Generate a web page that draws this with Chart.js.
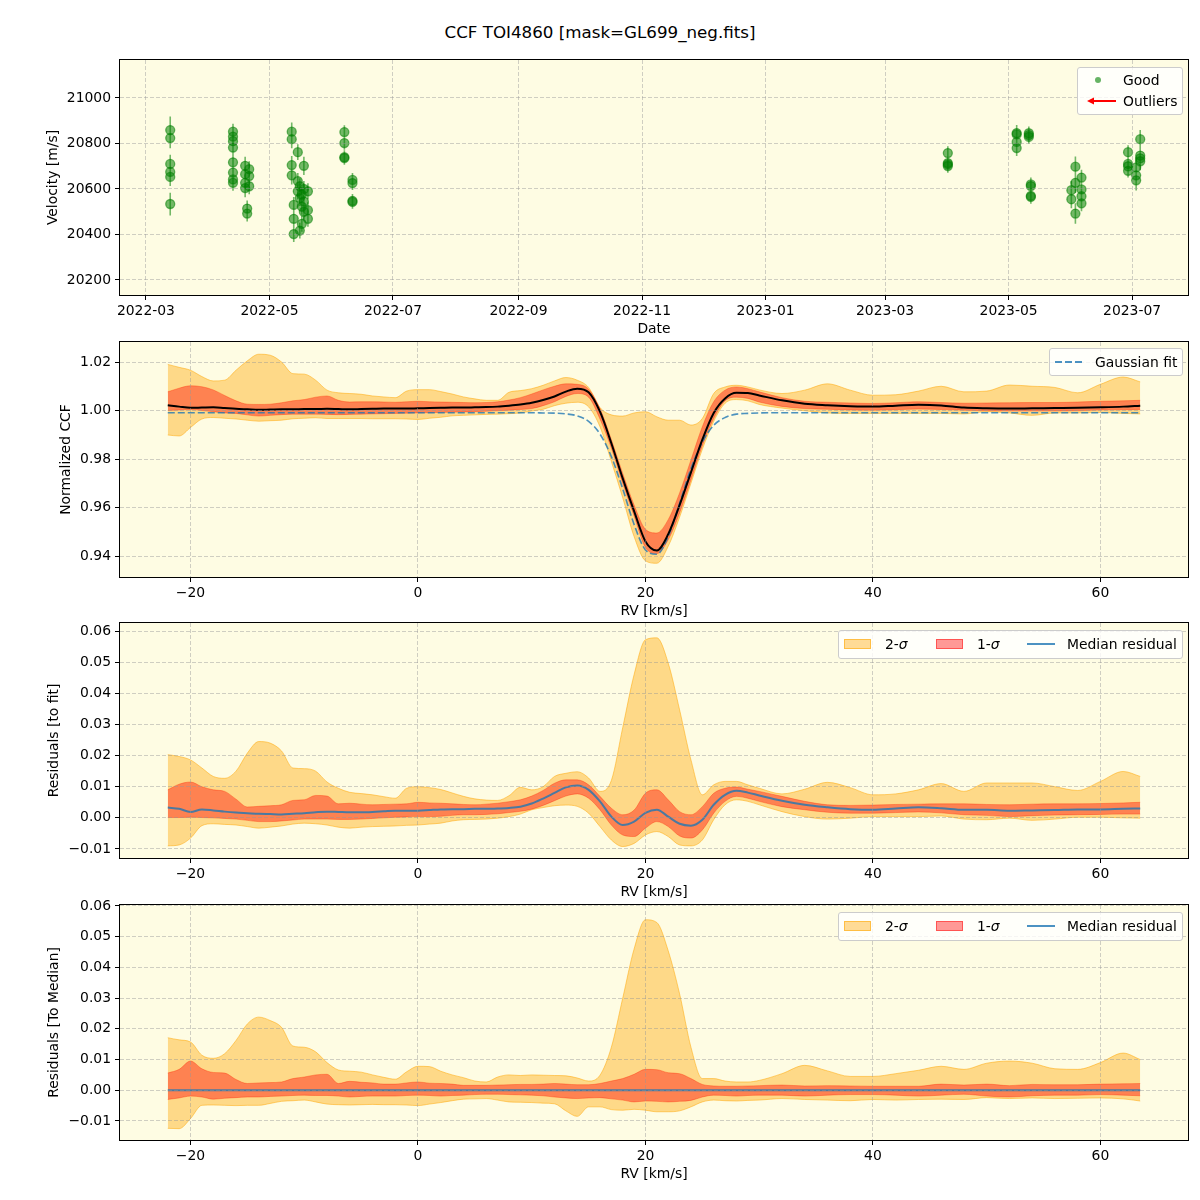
<!DOCTYPE html>
<html>
<head>
<meta charset="utf-8">
<title>CCF TOI4860</title>
<script src="https://cdn.jsdelivr.net/npm/chart.js@4.4.1/dist/chart.umd.min.js"></script>
<style>
  body { margin: 0; background: #fff; }
  #page { position: relative; width: 1200px; height: 1200px; font-family: "DejaVu Sans", sans-serif; color: #000; }
  #page canvas { position: absolute; left: 0; }
  #title { position: absolute; top: 22px; left: 0; width: 1200px; text-align: center; font-size: 16.7px; }
  .legend { position: absolute; background: rgba(255,255,255,0.8); border: 1px solid #cccccc; border-radius: 3px; font-size: 13.9px; }
  .legend span, .legend svg, .legend i.patch { position: absolute; }
  .legend span { line-height: 16px; white-space: nowrap; }
  .patch { display: block; width: 27px; height: 10px; top: 8px; box-sizing: border-box; }
</style>
</head>
<body>
<div id="page">
  <div id="title">CCF TOI4860 [mask=GL699_neg.fits]</div>
  <canvas id="velChart" width="1200" height="306" style="top:44px"></canvas>
  <canvas id="ccfChart" width="1200" height="306" style="top:326px"></canvas>
  <canvas id="fitChart" width="1200" height="306" style="top:607px"></canvas>
  <canvas id="medChart" width="1200" height="306" style="top:889px"></canvas>

  <div class="legend" style="left:1077px;top:67px;width:104px;height:46px">
    <svg style="left:15px;top:7px" width="10" height="10"><circle cx="5" cy="5" r="3" fill="rgba(0,128,0,0.6)"/></svg>
    <span style="left:45px;top:4px">Good</span>
    <svg style="left:9px;top:27px" width="30" height="12"><line x1="29" y1="6" x2="5" y2="6" stroke="red" stroke-width="2"/><polygon points="0,6 7,2.5 7,9.5" fill="red"/></svg>
    <span style="left:45px;top:25px">Outliers</span>
  </div>

  <div class="legend" style="left:1049px;top:348px;width:132px;height:26px">
    <svg style="left:5px;top:8px" width="30" height="10"><line x1="0" y1="5" x2="28" y2="5" stroke="rgba(31,119,180,0.8)" stroke-width="2" stroke-dasharray="7,3"/></svg>
    <span style="left:45px;top:5px">Gaussian fit</span>
  </div>

  <div class="legend" style="left:838px;top:630px;width:343px;height:27px">
    <i class="patch" style="left:5px;background:rgba(255,165,0,0.4);border:1px solid rgba(255,165,0,0.55)"></i>
    <span style="left:46px;top:5px">2-<i>σ</i></span>
    <i class="patch" style="left:97px;background:rgba(255,0,0,0.4);border:1px solid rgba(255,0,0,0.45)"></i>
    <span style="left:138px;top:5px">1-<i>σ</i></span>
    <svg style="left:188px;top:8px" width="30" height="10"><line x1="0" y1="5" x2="28" y2="5" stroke="rgba(31,119,180,0.8)" stroke-width="2"/></svg>
    <span style="left:228px;top:5px">Median residual</span>
  </div>

  <div class="legend" style="left:838px;top:912px;width:343px;height:27px">
    <i class="patch" style="left:5px;background:rgba(255,165,0,0.4);border:1px solid rgba(255,165,0,0.55)"></i>
    <span style="left:46px;top:5px">2-<i>σ</i></span>
    <i class="patch" style="left:97px;background:rgba(255,0,0,0.4);border:1px solid rgba(255,0,0,0.45)"></i>
    <span style="left:138px;top:5px">1-<i>σ</i></span>
    <svg style="left:188px;top:8px" width="30" height="10"><line x1="0" y1="5" x2="28" y2="5" stroke="rgba(31,119,180,0.8)" stroke-width="2"/></svg>
    <span style="left:228px;top:5px">Median residual</span>
  </div>
</div>

<script>
// CCF diagnostics for TOI4860

// --- Velocity time series (panel 1) ---
const obsDates = [
  '2022-03-13','2022-03-13','2022-03-13','2022-03-13','2022-03-13','2022-03-13',
  '2022-04-13','2022-04-13','2022-04-13','2022-04-13','2022-04-13','2022-04-13','2022-04-13','2022-04-13',
  '2022-04-19','2022-04-19','2022-04-19','2022-04-19',
  '2022-04-20','2022-04-20',
  '2022-04-21','2022-04-21','2022-04-21',
  '2022-05-12','2022-05-12','2022-05-12','2022-05-12',
  '2022-05-13','2022-05-13','2022-05-13',
  '2022-05-15','2022-05-15','2022-05-15',
  '2022-05-16','2022-05-16','2022-05-16',
  '2022-05-17','2022-05-17','2022-05-17',
  '2022-05-18','2022-05-18','2022-05-18','2022-05-18',
  '2022-05-20','2022-05-20','2022-05-20',
  '2022-06-07','2022-06-07','2022-06-07','2022-06-07',
  '2022-06-11','2022-06-11','2022-06-11','2022-06-11',
  '2023-04-01','2023-04-01','2023-04-01','2023-04-01',
  '2023-05-05','2023-05-05','2023-05-05','2023-05-05',
  '2023-05-11','2023-05-11','2023-05-11',
  '2023-05-12','2023-05-12','2023-05-12','2023-05-12',
  '2023-06-01','2023-06-01',
  '2023-06-03','2023-06-03','2023-06-03',
  '2023-06-06','2023-06-06','2023-06-06','2023-06-06',
  '2023-06-29','2023-06-29','2023-06-29','2023-06-29',
  '2023-07-03','2023-07-03','2023-07-03',
  '2023-07-05','2023-07-05','2023-07-05','2023-07-05'
];
const obsVel = [
  20859, 20824, 20710, 20675, 20653, 20534,
  20852, 20830, 20810, 20782, 20717, 20672, 20642, 20627,
  20702, 20665, 20627, 20604,
  20514, 20492,
  20687, 20657, 20612,
  20852, 20819, 20705, 20660,
  20530, 20469, 20402,
  20762, 20635, 20590,
  20612, 20560, 20417,
  20575, 20522, 20447,
  20702, 20600, 20545, 20500,
  20590, 20507, 20469,
  20850, 20802, 20740, 20736,
  20640, 20626, 20548, 20543,
  20758, 20714, 20708, 20701,
  20846, 20840, 20807, 20780,
  20845, 20837, 20829,
  20620, 20613, 20570, 20565,
  20595, 20555,
  20698, 20627, 20492,
  20650, 20598, 20568, 20537,
  20762, 20710, 20700, 20680,
  20695, 20660, 20638,
  20819, 20747, 20735, 20722
];
const obsErr = [
  60, 45, 40, 40, 40, 50,
  35, 35, 35, 35, 35, 40, 40, 35,
  40, 40, 40, 40,
  35, 35,
  35, 35, 35,
  40, 40, 40, 40,
  35, 35, 35,
  35, 35, 35,
  35, 35, 35,
  35, 35, 35,
  40, 35, 35, 35,
  35, 35, 35,
  30, 30, 30, 30,
  30, 30, 30, 30,
  30, 30, 30, 30,
  35, 35, 35, 35,
  30, 30, 30,
  30, 30, 30, 30,
  40, 40,
  45, 45, 45,
  35, 35, 35, 35,
  30, 30, 30, 30,
  45, 45, 45,
  40, 40, 40, 40
];
const dateTickLabels = ['2022-03', '2022-05', '2022-07', '2022-09', '2022-11', '2023-01', '2023-03', '2023-05', '2023-07'];
const velTicks = [20200, 20400, 20600, 20800, 21000];

// --- CCF profiles, RV grid in km/s (panels 2-4) ---
const rv = [
  -22, -21, -20, -19, -18, -17, -16, -15, -14, -13,
  -12, -11, -10, -9, -8, -7, -6, -5, -4, -3,
  -2, -1, 0, 1, 2, 3, 4, 5, 6, 7,
  8, 9, 10, 11, 12, 13, 14, 15, 16, 17,
  18, 19, 20, 21, 22, 23, 24, 25, 26, 27,
  28, 29, 30, 32, 34, 36, 38, 40, 42, 44,
  46, 48, 50, 52, 54, 56, 58, 60, 62, 63.5
];
const rvTicks = [-20, 0, 20, 40, 60];

// normalized CCF
const ccfMedian = [
  1.0022, 1.0016, 1.0011, 1.0012, 1.0013, 1.0010, 1.0007, 1.0005, 1.0003, 1.0004,
  1.0005, 1.0005, 1.0006, 1.0006, 1.0007, 1.0006, 1.0005, 1.0006, 1.0007, 1.0008,
  1.0008, 1.0008, 1.0009, 1.0010, 1.0011, 1.0012, 1.0012, 1.0013, 1.0014, 1.0016,
  1.0020, 1.0025, 1.0032, 1.0043, 1.0058, 1.0078, 1.0090, 1.0075, 0.9995, 0.9865,
  0.9720, 0.9585, 0.9460, 0.9423, 0.9490, 0.9610, 0.9745, 0.9880, 0.9990, 1.0050,
  1.0073, 1.0072, 1.0062, 1.0042, 1.0028, 1.0022, 1.0018, 1.0016, 1.0020, 1.0024,
  1.0021, 1.0012, 1.0009, 1.0008, 1.0009, 1.0010, 1.0011, 1.0013, 1.0016, 1.0020
];
const ccfGauss = [
  0.9991, 0.9991, 0.9991, 0.9991, 0.9991, 0.9991, 0.9991, 0.9991, 0.9991, 0.9991,
  0.9991, 0.9991, 0.9991, 0.9991, 0.9991, 0.9991, 0.9991, 0.9991, 0.9991, 0.9991,
  0.9991, 0.9991, 0.9991, 0.9991, 0.9991, 0.9991, 0.9991, 0.9991, 0.9991, 0.9991,
  0.9991, 0.9991, 0.9991, 0.9990, 0.9989, 0.9986, 0.9978, 0.9955, 0.9903, 0.9810,
  0.9677, 0.9530, 0.9425, 0.9407, 0.9480, 0.9617, 0.9760, 0.9870, 0.9939, 0.9971,
  0.9985, 0.9988, 0.9990, 0.9991, 0.9991, 0.9991, 0.9991, 0.9991, 0.9991, 0.9991,
  0.9991, 0.9991, 0.9991, 0.9991, 0.9991, 0.9991, 0.9991, 0.9991, 0.9991, 0.9991
];
const ccfHi1 = [
  1.0077, 1.0092, 1.0102, 1.0098, 1.0085, 1.0062, 1.0040, 1.0026, 1.0025, 1.0026,
  1.0032, 1.0040, 1.0045, 1.0055, 1.0060, 1.0042, 1.0035, 1.0036, 1.0036, 1.0035,
  1.0034, 1.0036, 1.0038, 1.0036, 1.0035, 1.0034, 1.0033, 1.0032, 1.0033, 1.0036,
  1.0043, 1.0053, 1.0068, 1.0085, 1.0100, 1.0110, 1.0108, 1.0088, 1.0008, 0.9880,
  0.9740, 0.9610, 0.9510, 0.9495, 0.9550, 0.9660, 0.9796, 0.9933, 1.0036, 1.0084,
  1.0097, 1.0090, 1.0077, 1.0053, 1.0038, 1.0034, 1.0031, 1.0029, 1.0032, 1.0036,
  1.0033, 1.0030, 1.0031, 1.0032, 1.0033, 1.0033, 1.0035, 1.0038, 1.0040, 1.0042
];
const ccfLo1 = [
  1.0000, 1.0002, 1.0004, 1.0000, 0.9995, 0.9990, 0.9988, 0.9982, 0.9977, 0.9980,
  0.9983, 0.9985, 0.9985, 0.9985, 0.9984, 0.9983, 0.9984, 0.9985, 0.9986, 0.9987,
  0.9988, 0.9989, 0.9990, 0.9991, 0.9992, 0.9993, 0.9994, 0.9995, 0.9997, 0.9999,
  1.0001, 1.0004, 1.0008, 1.0020, 1.0036, 1.0058, 1.0070, 1.0055, 0.9965, 0.9845,
  0.9700, 0.9565, 0.9435, 0.9410, 0.9467, 0.9577, 0.9714, 0.9855, 0.9967, 1.0040,
  1.0055, 1.0050, 1.0035, 1.0017, 1.0008, 1.0005, 1.0002, 1.0001, 1.0003, 1.0006,
  1.0004, 1.0001, 0.9999, 0.9998, 0.9998, 0.9998, 0.9999, 1.0002, 1.0003, 1.0004
];
const ccfHi2 = [
  1.0190, 1.0178, 1.0166, 1.0140, 1.0122, 1.0125, 1.0166, 1.0205, 1.0232, 1.0228,
  1.0200, 1.0152, 1.0150, 1.0125, 1.0084, 1.0073, 1.0070, 1.0067, 1.0060, 1.0056,
  1.0053, 1.0080, 1.0086, 1.0086, 1.0078, 1.0068, 1.0056, 1.0048, 1.0042, 1.0042,
  1.0075, 1.0082, 1.0090, 1.0104, 1.0122, 1.0136, 1.0125, 1.0095, 1.0012, 0.9982,
  0.9977, 0.9990, 0.9995, 0.9974, 0.9960, 0.9960, 0.9940, 0.9967, 1.0070, 1.0097,
  1.0104, 1.0097, 1.0085, 1.0070, 1.0084, 1.0110, 1.0084, 1.0063, 1.0065, 1.0080,
  1.0100, 1.0077, 1.0080, 1.0105, 1.0100, 1.0095, 1.0073, 1.0108, 1.0138, 1.0118
];
const ccfLo2 = [
  0.9899, 0.9895, 0.9930, 0.9965, 0.9971, 0.9968, 0.9965, 0.9960, 0.9956, 0.9958,
  0.9960, 0.9966, 0.9968, 0.9970, 0.9967, 0.9967, 0.9967, 0.9967, 0.9966, 0.9966,
  0.9966, 0.9965, 0.9963, 0.9968, 0.9972, 0.9978, 0.9980, 0.9982, 0.9984, 0.9985,
  0.9987, 0.9990, 0.9998, 1.0005, 1.0020, 1.0030, 1.0034, 1.0015, 0.9933, 0.9790,
  0.9640, 0.9480, 0.9380, 0.9370, 0.9440, 0.9560, 0.9700, 0.9840, 0.9955, 1.0030,
  1.0045, 1.0040, 1.0025, 1.0010, 0.9999, 0.9990, 0.9988, 0.9988, 0.9988, 0.9988,
  0.9988, 0.9986, 0.9995, 0.9990, 0.9980, 0.9990, 0.9990, 0.9992, 0.9988, 0.9986
];
const ccfTicks = [0.94, 0.96, 0.98, 1.00, 1.02];

// residuals to the Gaussian fit
const fitMedian = [
  0.0033, 0.0029, 0.0019, 0.0027, 0.0024, 0.0020, 0.0017, 0.0015, 0.0013, 0.0012,
  0.0011, 0.0013, 0.0015, 0.0018, 0.0020, 0.0019, 0.0018, 0.0018, 0.0019, 0.0021,
  0.0023, 0.0023, 0.0023, 0.0025, 0.0027, 0.0028, 0.0028, 0.0029, 0.0029, 0.0030,
  0.0032, 0.0036, 0.0046, 0.0062, 0.0080, 0.0098, 0.0104, 0.0090, 0.0053, 0.0004,
  -0.0023, -0.0012, 0.0016, 0.0026, 0.0004, -0.0019, -0.0025, -0.0006, 0.0042, 0.0074,
  0.0087, 0.0081, 0.0072, 0.0055, 0.0042, 0.0034, 0.0028, 0.0026, 0.0030, 0.0034,
  0.0031, 0.0026, 0.0026, 0.0023, 0.0024, 0.0025, 0.0027, 0.0027, 0.0029, 0.0030
];
const fitHi1 = [
  0.0090, 0.0108, 0.0115, 0.0100, 0.0090, 0.0085, 0.0060, 0.0035, 0.0037, 0.0039,
  0.0042, 0.0056, 0.0058, 0.0072, 0.0070, 0.0045, 0.0047, 0.0044, 0.0042, 0.0043,
  0.0044, 0.0045, 0.0050, 0.0048, 0.0047, 0.0045, 0.0043, 0.0042, 0.0044, 0.0047,
  0.0052, 0.0058, 0.0070, 0.0088, 0.0111, 0.0122, 0.0122, 0.0106, 0.0069, 0.0031,
  0.0010, 0.0025, 0.0079, 0.0090, 0.0058, 0.0020, 0.0010, 0.0036, 0.0079, 0.0095,
  0.0099, 0.0092, 0.0085, 0.0069, 0.0053, 0.0042, 0.0040, 0.0041, 0.0043, 0.0044,
  0.0045, 0.0045, 0.0043, 0.0042, 0.0044, 0.0045, 0.0045, 0.0046, 0.0048, 0.0050
];
const fitLo1 = [
  0.0001, 0.0001, 0.0002, 0.0001, 0.0000, -0.0002, -0.0004, -0.0008, -0.0012, -0.0012,
  -0.0010, -0.0007, -0.0004, -0.0004, -0.0004, -0.0005, -0.0005, -0.0004, -0.0002, 0.0000,
  0.0002, 0.0003, 0.0004, 0.0004, 0.0005, 0.0008, 0.0010, 0.0010, 0.0011, 0.0013,
  0.0017, 0.0021, 0.0028, 0.0040, 0.0055, 0.0070, 0.0077, 0.0063, 0.0026, -0.0023,
  -0.0055, -0.0060, -0.0033, -0.0012, -0.0028, -0.0058, -0.0065, -0.0039, 0.0015, 0.0053,
  0.0069, 0.0063, 0.0053, 0.0036, 0.0026, 0.0018, 0.0015, 0.0015, 0.0017, 0.0019,
  0.0016, 0.0010, 0.0008, 0.0004, 0.0007, 0.0009, 0.0010, 0.0011, 0.0012, 0.0012
];
const fitHi2 = [
  0.0203, 0.0197, 0.0186, 0.0160, 0.0133, 0.0127, 0.0150, 0.0208, 0.0245, 0.0240,
  0.0215, 0.0160, 0.0158, 0.0150, 0.0115, 0.0095, 0.0082, 0.0078, 0.0074, 0.0068,
  0.0063, 0.0095, 0.0100, 0.0097, 0.0091, 0.0080, 0.0069, 0.0061, 0.0057, 0.0056,
  0.0071, 0.0098, 0.0090, 0.0100, 0.0133, 0.0143, 0.0148, 0.0128, 0.0085, 0.0120,
  0.0290, 0.0460, 0.0572, 0.0578, 0.0497, 0.0347, 0.0186, 0.0074, 0.0106, 0.0117,
  0.0117, 0.0106, 0.0095, 0.0077, 0.0092, 0.0114, 0.0097, 0.0074, 0.0077, 0.0090,
  0.0110, 0.0085, 0.0112, 0.0112, 0.0112, 0.0100, 0.0088, 0.0117, 0.0149, 0.0133
];
const fitLo2 = [
  -0.0090, -0.0087, -0.0065, -0.0025, -0.0019, -0.0021, -0.0023, -0.0028, -0.0033, -0.0030,
  -0.0026, -0.0020, -0.0017, -0.0019, -0.0023, -0.0030, -0.0033, -0.0030, -0.0028, -0.0027,
  -0.0026, -0.0024, -0.0023, -0.0020, -0.0017, -0.0010, -0.0006, -0.0005, -0.0004, -0.0001,
  0.0004, 0.0012, 0.0026, 0.0033, 0.0039, 0.0041, 0.0037, 0.0015, -0.0028, -0.0071,
  -0.0092, -0.0082, -0.0055, -0.0044, -0.0060, -0.0087, -0.0090, -0.0071, -0.0006, 0.0042,
  0.0058, 0.0053, 0.0042, 0.0020, 0.0004, -0.0004, -0.0001, 0.0004, 0.0004, 0.0004,
  0.0006, -0.0004, -0.0006, -0.0001, -0.0008, -0.0004, 0.0002, 0.0002, 0.0000, -0.0001
];

// residuals to the median profile
const medMedian = [
  0, 0, 0, 0, 0, 0, 0, 0, 0, 0,
  0, 0, 0, 0, 0, 0, 0, 0, 0, 0,
  0, 0, 0, 0, 0, 0, 0, 0, 0, 0,
  0, 0, 0, 0, 0, 0, 0, 0, 0, 0,
  0, 0, 0, 0, 0, 0, 0, 0, 0, 0,
  0, 0, 0, 0, 0, 0, 0, 0, 0, 0,
  0, 0, 0, 0, 0, 0, 0, 0, 0, 0
];
const medHi1 = [
  0.0056, 0.0068, 0.0095, 0.0070, 0.0058, 0.0056, 0.0035, 0.0022, 0.0024, 0.0025,
  0.0027, 0.0038, 0.0043, 0.0050, 0.0052, 0.0022, 0.0029, 0.0026, 0.0024, 0.0020,
  0.0020, 0.0024, 0.0027, 0.0023, 0.0022, 0.0020, 0.0016, 0.0016, 0.0016, 0.0017,
  0.0018, 0.0019, 0.0019, 0.0020, 0.0022, 0.0020, 0.0018, 0.0018, 0.0022, 0.0030,
  0.0038, 0.0052, 0.0068, 0.0067, 0.0057, 0.0054, 0.0038, 0.0019, 0.0014, 0.0013,
  0.0013, 0.0014, 0.0015, 0.0017, 0.0014, 0.0015, 0.0014, 0.0013, 0.0013, 0.0013,
  0.0020, 0.0017, 0.0020, 0.0015, 0.0019, 0.0018, 0.0018, 0.0020, 0.0021, 0.0022
];
const medLo1 = [
  -0.0030, -0.0025, -0.0019, -0.0022, -0.0029, -0.0026, -0.0024, -0.0022, -0.0022, -0.0020,
  -0.0019, -0.0017, -0.0016, -0.0017, -0.0017, -0.0019, -0.0022, -0.0020, -0.0019, -0.0019,
  -0.0019, -0.0017, -0.0016, -0.0017, -0.0019, -0.0017, -0.0016, -0.0014, -0.0013, -0.0013,
  -0.0014, -0.0015, -0.0016, -0.0018, -0.0022, -0.0025, -0.0027, -0.0025, -0.0024, -0.0028,
  -0.0032, -0.0038, -0.0035, -0.0036, -0.0038, -0.0036, -0.0033, -0.0022, -0.0016, -0.0017,
  -0.0019, -0.0017, -0.0016, -0.0016, -0.0019, -0.0016, -0.0014, -0.0014, -0.0016, -0.0019,
  -0.0016, -0.0013, -0.0019, -0.0022, -0.0018, -0.0016, -0.0016, -0.0014, -0.0016, -0.0018
];
const medHi2 = [
  0.0171, 0.0164, 0.0157, 0.0114, 0.0104, 0.0119, 0.0162, 0.0216, 0.0238, 0.0227,
  0.0205, 0.0144, 0.0140, 0.0125, 0.0090, 0.0066, 0.0062, 0.0059, 0.0050, 0.0042,
  0.0036, 0.0060, 0.0078, 0.0077, 0.0062, 0.0050, 0.0041, 0.0030, 0.0027, 0.0043,
  0.0050, 0.0048, 0.0050, 0.0049, 0.0048, 0.0047, 0.0040, 0.0030, 0.0049, 0.0140,
  0.0300, 0.0460, 0.0555, 0.0546, 0.0454, 0.0314, 0.0140, 0.0038, 0.0038, 0.0030,
  0.0027, 0.0027, 0.0032, 0.0054, 0.0081, 0.0063, 0.0045, 0.0045, 0.0054, 0.0065,
  0.0078, 0.0068, 0.0088, 0.0095, 0.0088, 0.0070, 0.0068, 0.0090, 0.0121, 0.0100
];
const medLo2 = [
  -0.0124, -0.0125, -0.0092, -0.0049, -0.0048, -0.0049, -0.0050, -0.0049, -0.0049, -0.0043,
  -0.0036, -0.0034, -0.0032, -0.0038, -0.0045, -0.0047, -0.0048, -0.0047, -0.0046, -0.0047,
  -0.0047, -0.0048, -0.0050, -0.0045, -0.0040, -0.0034, -0.0029, -0.0028, -0.0027, -0.0032,
  -0.0038, -0.0039, -0.0040, -0.0042, -0.0044, -0.0067, -0.0085, -0.0054, -0.0054, -0.0063,
  -0.0065, -0.0062, -0.0065, -0.0070, -0.0070, -0.0067, -0.0054, -0.0038, -0.0032, -0.0034,
  -0.0035, -0.0033, -0.0032, -0.0027, -0.0030, -0.0032, -0.0034, -0.0030, -0.0032, -0.0030,
  -0.0029, -0.0030, -0.0024, -0.0027, -0.0025, -0.0027, -0.0026, -0.0025, -0.0028, -0.0035
];
const residTicks = [-0.01, 0.00, 0.01, 0.02, 0.03, 0.04, 0.05, 0.06];

// --- Styling ---
Chart.defaults.font.family = '"DejaVu Sans", sans-serif';
Chart.defaults.font.size = 13.9;
Chart.defaults.color = '#000';

const PLOT_BG = '#fefce3';
const GRID = 'rgba(150,150,150,0.45)';
const FILL_2S = 'rgba(255,165,0,0.4)';
const EDGE_2S = 'rgba(255,165,0,0.5)';
const FILL_1S = 'rgba(255,0,0,0.4)';
const EDGE_1S = 'rgba(255,40,0,0.35)';
const C0 = 'rgba(31,119,180,0.8)';

// plot background + black frame around the axes box
const axesFrame = {
  id: 'axesFrame',
  beforeDraw(chart) {
    const a = chart.chartArea, ctx = chart.ctx;
    ctx.save();
    ctx.fillStyle = PLOT_BG;
    ctx.fillRect(a.left, a.top, a.right - a.left, a.bottom - a.top);
    ctx.restore();
  },
  afterDraw(chart) {
    const a = chart.chartArea, ctx = chart.ctx;
    ctx.save();
    ctx.strokeStyle = '#000';
    ctx.lineWidth = 1;
    ctx.strokeRect(a.left - 0.5, a.top - 0.5, a.right - a.left + 1, a.bottom - a.top + 1);
    ctx.restore();
  }
};

const signed = v => (v < 0 ? '\u2212' : '') + Math.abs(v);
const signed2 = v => (v < 0 ? '\u2212' : '') + Math.abs(v).toFixed(2);

function toDay(s) {
  return (Date.parse(s + 'T00:00:00Z') - Date.parse('2022-03-01T00:00:00Z')) / 86400000;
}

function makeScales(o) {
  const gridOpts = { color: GRID, lineWidth: 1, z: 1, tickColor: '#000', tickLength: 5, tickWidth: 1, tickBorderDash: [] };
  return {
    x: {
      type: 'linear', min: o.xMin, max: o.xMax,
      afterFit: s => { s.height = 55; },
      afterBuildTicks: s => { s.ticks = o.xTicks.map(v => ({ value: v })); },
      ticks: { autoSkip: false, maxRotation: 0, padding: 3, callback: o.xFmt },
      grid: gridOpts,
      border: { display: false, dash: [4, 2] },
      title: { display: true, text: o.xTitle, padding: { top: 0, bottom: 12 } }
    },
    y: {
      type: 'linear', min: o.yMin, max: o.yMax,
      afterFit: s => { s.width = 120; },
      afterBuildTicks: s => { s.ticks = o.yTicks.map(v => ({ value: v })); },
      ticks: { autoSkip: false, padding: 4, callback: o.yFmt },
      grid: gridOpts,
      border: { display: false, dash: [4, 2] },
      title: { display: true, text: o.yTitle, padding: { top: o.yPad, bottom: 0 } }
    }
  };
}

function baseOptions(scales) {
  return {
    responsive: false,
    animation: false,
    events: [],
    layout: { padding: { top: 16, right: 12, left: 0, bottom: 0 } },
    plugins: { legend: { display: false }, tooltip: { enabled: false } },
    scales: scales
  };
}

const pts = ys => rv.map((x, i) => ({ x: x, y: ys[i] }));

function curve(ys, color, width, order, extra) {
  return Object.assign({
    data: pts(ys), borderColor: color, borderWidth: width, pointRadius: 0,
    fill: false, order: order, cubicInterpolationMode: 'monotone'
  }, extra || {});
}

// lo2, hi2, lo1, hi1 first so the fill targets are dataset 0 and 2
function bands(lo2, hi2, lo1, hi1) {
  return [
    curve(lo2, EDGE_2S, 1, 10),
    curve(hi2, EDGE_2S, 1, 9, { fill: { target: 0 }, backgroundColor: FILL_2S }),
    curve(lo1, EDGE_1S, 1, 8),
    curve(hi1, EDGE_1S, 1, 7, { fill: { target: 2 }, backgroundColor: FILL_1S })
  ];
}

// --- Panel 1: velocities ---
const obsX = obsDates.map(toDay);
const dateTickValues = dateTickLabels.map(l => toDay(l + '-01'));
const errSegments = [];
obsX.forEach((x, i) => {
  errSegments.push({ x: x, y: obsVel[i] - obsErr[i] }, { x: x, y: obsVel[i] + obsErr[i] }, { x: x, y: null });
});

new Chart(document.getElementById('velChart'), {
  type: 'line',
  data: {
    datasets: [
      {
        label: 'Good',
        data: obsX.map((x, i) => ({ x: x, y: obsVel[i] })),
        showLine: false, pointRadius: 4.5, pointBorderWidth: 1.3,
        pointBackgroundColor: 'rgba(0,128,0,0.55)', pointBorderColor: 'rgba(0,128,0,0.55)', order: 1
      },
      {
        data: errSegments, showLine: true, spanGaps: false, pointRadius: 0,
        borderColor: 'rgba(0,128,0,0.55)', borderWidth: 1.6, order: 2
      }
    ]
  },
  options: baseOptions(makeScales({
    xMin: -12.8, xMax: 514.6, xTicks: dateTickValues, xTitle: 'Date',
    xFmt: v => dateTickLabels[dateTickValues.indexOf(v)],
    yMin: 20134, yMax: 21167, yTicks: velTicks, yTitle: 'Velocity [m/s]', yPad: 44.7,
    yFmt: v => String(v)
  })),
  plugins: [axesFrame]
});

// --- Panel 2: normalized CCF ---
new Chart(document.getElementById('ccfChart'), {
  type: 'line',
  data: {
    datasets: bands(ccfLo2, ccfHi2, ccfLo1, ccfHi1).concat([
      curve(ccfGauss, C0, 1.6, 2, { borderDash: [7, 3] }),
      curve(ccfMedian, '#000', 2, 1)
    ])
  },
  options: baseOptions(makeScales({
    xMin: -26.2, xMax: 67.7, xTicks: rvTicks, xTitle: 'RV [km/s]', xFmt: signed,
    yMin: 0.93134, yMax: 1.02825, yTicks: ccfTicks, yTitle: 'Normalized CCF', yPad: 57.7,
    yFmt: signed2
  })),
  plugins: [axesFrame]
});

// --- Panel 3: residuals to fit ---
new Chart(document.getElementById('fitChart'), {
  type: 'line',
  data: {
    datasets: bands(fitLo2, fitHi2, fitLo1, fitHi1).concat([
      curve(fitMedian, C0, 2, 1)
    ])
  },
  options: baseOptions(makeScales({
    xMin: -26.2, xMax: 67.7, xTicks: rvTicks, xTitle: 'RV [km/s]', xFmt: signed,
    yMin: -0.01289, yMax: 0.06257, yTicks: residTicks, yTitle: 'Residuals [to fit]', yPad: 45.7,
    yFmt: signed2
  })),
  plugins: [axesFrame]
});

// --- Panel 4: residuals to median ---
new Chart(document.getElementById('medChart'), {
  type: 'line',
  data: {
    datasets: bands(medLo2, medHi2, medLo1, medHi1).concat([
      curve(medMedian, C0, 2, 1)
    ])
  },
  options: baseOptions(makeScales({
    xMin: -26.2, xMax: 67.7, xTicks: rvTicks, xTitle: 'RV [km/s]', xFmt: signed,
    yMin: -0.01619, yMax: 0.0603, yTicks: residTicks, yTitle: 'Residuals [To Median]', yPad: 45.7,
    yFmt: signed2
  })),
  plugins: [axesFrame]
});
</script>
</body>
</html>
